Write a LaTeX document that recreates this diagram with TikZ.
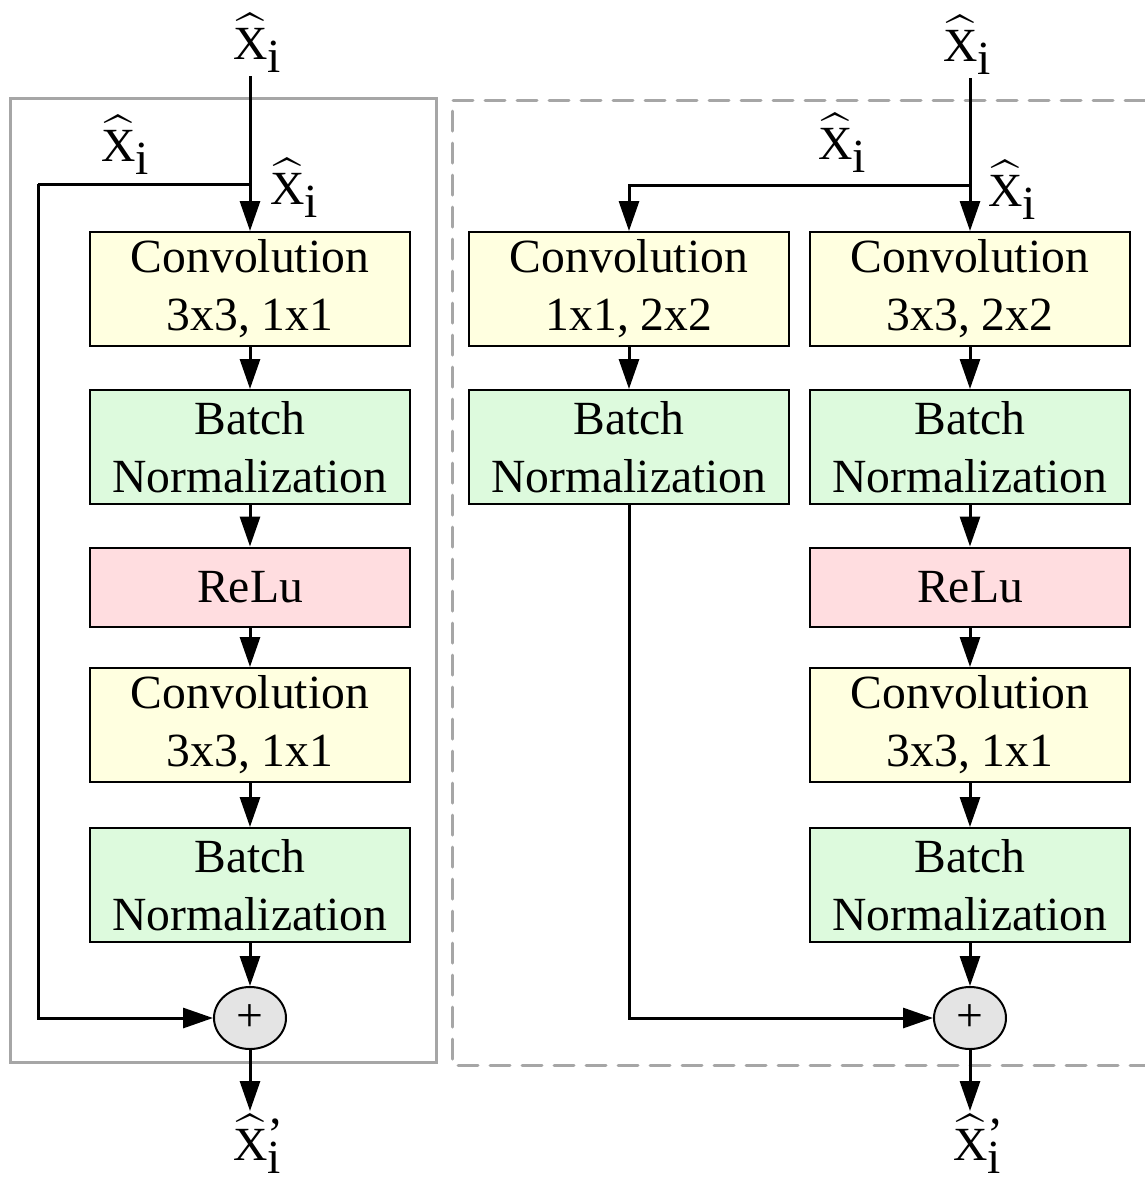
\documentclass[tikz,border=0pt]{standalone}
\usepackage{amsmath}
\usepackage{fontspec}
\setmainfont{Liberation Serif}
\usetikzlibrary{arrows.meta, shapes.geometric}
\definecolor{convfill}{RGB}{255,255,224}
\definecolor{bnfill}{RGB}{221,250,221}
\definecolor{relufill}{RGB}{255,221,224}
\definecolor{addfill}{RGB}{228,228,228}
\definecolor{framegray}{RGB}{166,166,166}
\newcommand{\xhat}{\ensuremath{\widehat{\text{X}}}}
\newcommand{\xin}{\xhat\raisebox{-0.28em}{i}}
\newcommand{\xout}{\xhat\rlap{\raisebox{0.2em}{’}}\raisebox{-0.28em}{i}}
\tikzset{
  layer/.style = {draw=black, line width=1pt, minimum width=160pt,
    align=center, inner sep=0pt, text centered},
  conv/.style = {layer, fill=convfill, minimum height=57pt},
  bnorm/.style = {layer, fill=bnfill, minimum height=57pt},
  relu/.style = {layer, fill=relufill, minimum height=39.5pt},
  addop/.style = {ellipse, draw=black, line width=1pt, fill=addfill,
    minimum width=36pt, minimum height=31pt, inner sep=0pt},
  lbl/.style = {inner sep=1pt}}

\begin{document}
\begin{tikzpicture}[x=0.5pt, y=-0.5pt, line width=1.5pt,
  >={Triangle[length=15pt,width=10pt]},
  every node/.style={font=\fontsize{23.8}{29}\selectfont}]
 \useasboundingbox (0,0) rectangle (1145,1185);

 % frames
 \draw[framegray, line width=1.5pt] (10,98) rectangle (436,1062);
 \draw[framegray, line width=1.5pt, dash pattern=on 10pt off 6pt, line cap=round]
   (1145,100) -- (452,100) -- (452,1065) -- (1145,1065);

 % left block
 \node[conv] (lconv1) at (250,289) {Convolution\\3x3, 1x1};
 \node[bnorm] (lbn1) at (250,447) {Batch\\Normalization};
 \node[relu] (lrelu) at (250,587) {ReLu};
 \node[conv] (lconv2) at (250,725) {Convolution\\3x3, 1x1};
 \node[bnorm] (lbn2) at (250,885) {Batch\\Normalization};
 \node[addop] (lplus) at (250,1018) {+};
 \node[lbl] (lin) at (257,43) {\xin};
 \node[lbl] (lout) at (257,1144) {\xout};
 \node[lbl] (lbranch) at (125,145) {\xin};
 \node[lbl] (lskip) at (294,188) {\xin};
 \coordinate (lsplit) at (250,184);
 \coordinate (lcorner) at (38,184);

 \draw[->] (lconv1.north |- lin.south) -- (lconv1);
 \draw (lsplit) -- (lcorner);
 \draw[->] (lcorner) |- (lplus);
 \draw[->] (lconv1) -- (lbn1);
 \draw[->] (lbn1) -- (lrelu);
 \draw[->] (lrelu) -- (lconv2);
 \draw[->] (lconv2) -- (lbn2);
 \draw[->] (lbn2) -- (lplus);
 \draw[->] (lplus) -- (lplus.south |- lout.north);

 % right block
 \node[conv] (rconvA) at (629,289) {Convolution\\1x1, 2x2};
 \node[bnorm] (rbnA) at (629,447) {Batch\\Normalization};
 \node[conv] (rconv1) at (970,289) {Convolution\\3x3, 2x2};
 \node[bnorm] (rbn1) at (970,447) {Batch\\Normalization};
 \node[relu] (rrelu) at (970,587) {ReLu};
 \node[conv] (rconv2) at (970,725) {Convolution\\3x3, 1x1};
 \node[bnorm] (rbn2) at (970,885) {Batch\\Normalization};
 \node[addop] (rplus) at (970,1018) {+};
 \node[lbl] (rin) at (967,45) {\xin};
 \node[lbl] (rout) at (977,1144) {\xout};
 \node[lbl] (rbranch) at (842,143) {\xin};
 \node[lbl] (rskip) at (1012,190) {\xin};
 \coordinate (rsplit) at (970,185);

 \draw[->] (rconv1.north |- rin.south) -- (rconv1);
 \draw[->] (rsplit) -| (rconvA);
 \draw[->] (rconvA) -- (rbnA);
 \draw[->] (rbnA) |- (rplus);
 \draw[->] (rconv1) -- (rbn1);
 \draw[->] (rbn1) -- (rrelu);
 \draw[->] (rrelu) -- (rconv2);
 \draw[->] (rconv2) -- (rbn2);
 \draw[->] (rbn2) -- (rplus);
 \draw[->] (rplus) -- (rplus.south |- rout.north);
\end{tikzpicture}
\end{document}
